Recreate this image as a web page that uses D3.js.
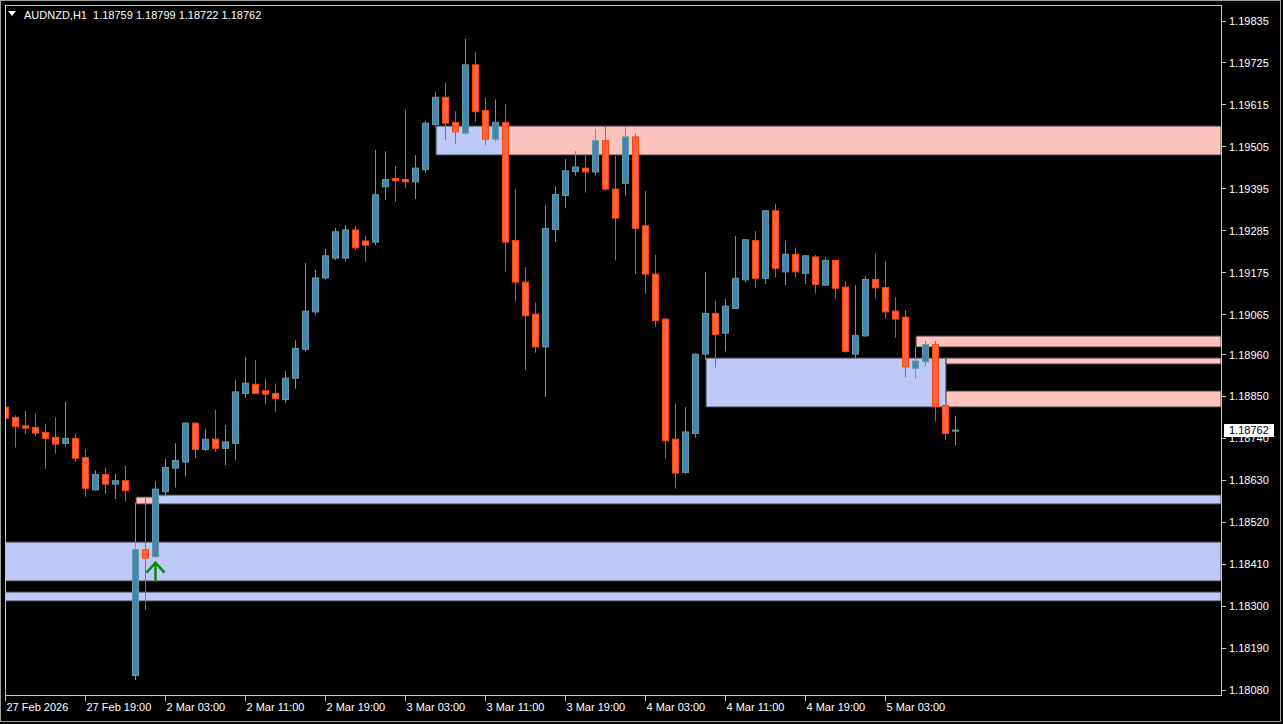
<!DOCTYPE html>
<html>
<head>
<meta charset="utf-8">
<script src="https://cdn.jsdelivr.net/npm/d3@7"></script>
<style>
html, body { margin: 0; padding: 0; background: #000; overflow: hidden; }
svg { display: block; }
text { font-family: "Liberation Sans", Arial, sans-serif; font-size: 11px; }
</style>
</head>
<body>
<script>
// AUDNZD H1 bars, 27 Feb 11:00 -> 5 Mar 10:00
var symbolTitle = "AUDNZD,H1";
var lastQuote = [1.18759, 1.18799, 1.18722, 1.18762];

var opens = [
  1.18822, 1.18795, 1.18773, 1.18769, 1.18756, 1.18743, 1.18727, 1.18740, 1.18690, 1.18605,
  1.18645, 1.18620, 1.18629, 1.18118, 1.18448, 1.18430, 1.18600, 1.18662, 1.18678, 1.18780,
  1.18711, 1.18738, 1.18714, 1.18727, 1.18858, 1.18882, 1.18865, 1.18858, 1.18842, 1.18898,
  1.18974, 1.19072, 1.19161, 1.19213, 1.19213, 1.19287, 1.19258, 1.19255, 1.19400, 1.19422,
  1.19419, 1.19413, 1.19445, 1.19563, 1.19635, 1.19569, 1.19541, 1.19720, 1.19600, 1.19525,
  1.19569, 1.19259, 1.19150, 1.19066, 1.18980, 1.19288, 1.19377, 1.19440, 1.19449, 1.19439,
  1.19521, 1.19394, 1.19409, 1.19531, 1.19298, 1.19171, 1.19053, 1.18738, 1.18651, 1.18753,
  1.18961, 1.19068, 1.19016, 1.19081, 1.19156, 1.19259, 1.19160, 1.19337, 1.19177, 1.19223,
  1.19173, 1.19216, 1.19142, 1.19207, 1.19137, 1.18961, 1.19009, 1.19157, 1.19136, 1.19074,
  1.19058, 1.18924, 1.18941, 1.18986, 1.18826, 1.18759
];
var highs = [
  1.18863, 1.18801, 1.18812, 1.18805, 1.18779, 1.18795, 1.18837, 1.18752, 1.18712, 1.18657,
  1.18664, 1.18648, 1.18668, 1.18571, 1.18583, 1.18628, 1.18687, 1.18727, 1.18783, 1.18782,
  1.18765, 1.18815, 1.18775, 1.18893, 1.18953, 1.18946, 1.18897, 1.18884, 1.18917, 1.18998,
  1.19200, 1.19182, 1.19237, 1.19292, 1.19300, 1.19297, 1.19271, 1.19497, 1.19493, 1.19455,
  1.19602, 1.19483, 1.19573, 1.19648, 1.19674, 1.19598, 1.19788, 1.19753, 1.19634, 1.19630,
  1.19617, 1.19394, 1.19189, 1.19097, 1.19352, 1.19401, 1.19473, 1.19494, 1.19484, 1.19552,
  1.19560, 1.19481, 1.19556, 1.19539, 1.19389, 1.19221, 1.19055, 1.18832, 1.18822, 1.18963,
  1.19176, 1.19101, 1.19106, 1.19271, 1.19263, 1.19284, 1.19339, 1.19355, 1.19258, 1.19241,
  1.19221, 1.19221, 1.19215, 1.19208, 1.19153, 1.19142, 1.19166, 1.19225, 1.19205, 1.19110,
  1.19077, 1.18979, 1.18996, 1.18996, 1.18863, 1.18799
];
var lows = [
  1.18788, 1.18716, 1.18752, 1.18745, 1.18660, 1.18700, 1.18718, 1.18679, 1.18587, 1.18603,
  1.18594, 1.18581, 1.18574, 1.18106, 1.18290, 1.18426, 1.18587, 1.18611, 1.18640, 1.18689,
  1.18707, 1.18705, 1.18670, 1.18683, 1.18847, 1.18857, 1.18830, 1.18810, 1.18834, 1.18870,
  1.18967, 1.19064, 1.19156, 1.19208, 1.19205, 1.19234, 1.19203, 1.19247, 1.19365, 1.19361,
  1.19398, 1.19368, 1.19437, 1.19560, 1.19522, 1.19513, 1.19535, 1.19571, 1.19509, 1.19516,
  1.19177, 1.19099, 1.18920, 1.18965, 1.18849, 1.19256, 1.19345, 1.19429, 1.19385, 1.19430,
  1.19390, 1.19207, 1.19378, 1.19171, 1.19119, 1.19033, 1.18687, 1.18608, 1.18647, 1.18742,
  1.18946, 1.18926, 1.18968, 1.19080, 1.19150, 1.19135, 1.19145, 1.19162, 1.19142, 1.19162,
  1.19145, 1.19120, 1.19141, 1.19107, 1.18965, 1.18949, 1.19007, 1.19107, 1.19054, 1.19004,
  1.18900, 1.18897, 1.18928, 1.18784, 1.18735, 1.18722
];
var closes = [
  1.18793, 1.18771, 1.18767, 1.18754, 1.18740, 1.18725, 1.18740, 1.18688, 1.18609, 1.18645,
  1.18620, 1.18629, 1.18603, 1.18448, 1.18426, 1.18607, 1.18664, 1.18682, 1.18780, 1.18711,
  1.18738, 1.18714, 1.18731, 1.18862, 1.18885, 1.18858, 1.18856, 1.18845, 1.18898, 1.18976,
  1.19074, 1.19161, 1.19219, 1.19282, 1.19287, 1.19240, 1.19247, 1.19379, 1.19419, 1.19416,
  1.19413, 1.19449, 1.19567, 1.19635, 1.19567, 1.19544, 1.19720, 1.19597, 1.19525, 1.19569,
  1.19255, 1.19150, 1.19062, 1.18980, 1.19291, 1.19380, 1.19442, 1.19452, 1.19439, 1.19521,
  1.19394, 1.19318, 1.19531, 1.19291, 1.19171, 1.19049, 1.18734, 1.18649, 1.18757, 1.18961,
  1.19068, 1.19013, 1.19087, 1.19160, 1.19261, 1.19160, 1.19337, 1.19186, 1.19223, 1.19177,
  1.19219, 1.19144, 1.19207, 1.19134, 1.18968, 1.19010, 1.19157, 1.19135, 1.19072, 1.19053,
  1.18928, 1.18943, 1.18986, 1.18823, 1.18753, 1.18762
];

var priceTicks = [1.19835, 1.19725, 1.19615, 1.19505, 1.19395, 1.19285, 1.19175, 1.19065,
  1.18960, 1.18850, 1.18740, 1.18630, 1.18520, 1.18410, 1.18300, 1.18190, 1.18080];

var timeLabels = ["27 Feb 2026", "27 Feb 19:00", "2 Mar 03:00", "2 Mar 11:00", "2 Mar 19:00",
  "3 Mar 03:00", "3 Mar 11:00", "3 Mar 19:00", "4 Mar 03:00", "4 Mar 11:00", "4 Mar 19:00", "5 Mar 03:00"];
var timeLabelBars = [0, 8, 16, 24, 32, 40, 48, 56, 64, 72, 80, 88];

// supply / demand zones (end = null -> extends to the right edge)
var zoneStart = [43, 50, 70, 91, 94, 94, 13, 15, -2, -2];
var zoneEnd   = [50, null, 94, null, null, null, 15, null, null, null];
var zoneHigh  = [1.19560, 1.19560, 1.18950, 1.19008, 1.18950, 1.18864, 1.18586, 1.18592, 1.18468, 1.18336];
var zoneLow   = [1.19484, 1.19484, 1.18822, 1.18979, 1.18934, 1.18822, 1.18568, 1.18567, 1.18366, 1.18314];
var zoneKind  = ["demand", "supply", "demand", "supply", "supply", "supply", "supply", "demand", "demand", "demand"];

var signalBar = [15];
var signalPrice = [1.18414];

var width = 1283, height = 724;
var plotLeft = 5, plotRight = 1221, plotTop = 5, plotBottom = 695;

var x = d3.scaleLinear().domain([0, 95]).range([5.7, 955.7]);
var y = d3.scaleLinear().domain([1.18080, 1.19835]).range([690, 21]);

function px(v) { return Math.floor(v) + 0.5; }

var svg = d3.select("body").append("svg")
  .attr("width", width)
  .attr("height", height);

svg.append("rect")
  .attr("width", width).attr("height", height)
  .attr("fill", "#000");

svg.append("clipPath").attr("id", "plotClip")
  .append("rect")
  .attr("x", plotLeft).attr("y", plotTop)
  .attr("width", plotRight - plotLeft).attr("height", plotBottom - plotTop);

var plot = svg.append("g").attr("clip-path", "url(#plotClip)");

var zones = d3.range(zoneStart.length);
plot.selectAll(".zone")
  .data(zones)
  .enter()
  .append("rect")
  .attr("class", "zone")
  .attr("x", function (i) { return Math.round(x(zoneStart[i])); })
  .attr("y", function (i) { return Math.round(y(zoneHigh[i])); })
  .attr("width", function (i) {
    var x1 = zoneEnd[i] === null ? plotRight : x(zoneEnd[i]);
    return Math.round(x1) - Math.round(x(zoneStart[i]));
  })
  .attr("height", function (i) { return Math.round(y(zoneLow[i])) - Math.round(y(zoneHigh[i])); })
  .attr("fill", function (i) { return zoneKind[i] == "supply" ? "#ffc3bd" : "#bec9f9"; })
  .attr("stroke", "#3e3e48")
  .attr("stroke-width", 1);

var bars = d3.range(opens.length);

var candle = plot.selectAll(".candle")
  .data(bars)
  .enter()
  .append("g")
  .attr("class", "candle");

candle.append("line")
  .attr("x1", function (i) { return px(x(i)); })
  .attr("x2", function (i) { return px(x(i)); })
  .attr("y1", function (i) { return y(highs[i]); })
  .attr("y2", function (i) { return y(lows[i]); })
  .attr("stroke", function (i) { return closes[i] >= opens[i] ? "#5f9ea0" : "#ff4500"; })
  .attr("stroke-width", 1);

candle.append("rect")
  .attr("x", function (i) { return px(x(i)) - 3; })
  .attr("y", function (i) { return y(Math.max(opens[i], closes[i])); })
  .attr("width", 6)
  .attr("height", function (i) {
    return Math.max(1, Math.abs(y(opens[i]) - y(closes[i])));
  })
  .attr("fill", function (i) { return closes[i] >= opens[i] ? "#4682b4" : "#ff6347"; })
  .attr("stroke", function (i) { return closes[i] >= opens[i] ? "#5f9ea0" : "#ff4500"; })
  .attr("stroke-width", 1);

// buy arrow
var arrows = plot.selectAll(".arrow")
  .data(d3.range(signalBar.length))
  .enter()
  .append("g")
  .attr("class", "arrow")
  .attr("transform", function (i) {
    return "translate(" + px(x(signalBar[i])) + "," + y(signalPrice[i]) + ")";
  });
arrows.append("path")
  .attr("d", "M0,0 L0,19 M-9,10 L0,0 L9,10")
  .attr("fill", "none")
  .attr("stroke", "#0a8a0a")
  .attr("stroke-width", 2.5);

// plot frame
svg.append("rect")
  .attr("x", plotLeft + 0.5).attr("y", plotTop + 0.5)
  .attr("width", plotRight - plotLeft).attr("height", plotBottom - plotTop)
  .attr("fill", "none")
  .attr("stroke", "#c8c8c8");

// price axis
var yAxis = svg.append("g");
yAxis.selectAll(".ytick")
  .data(priceTicks)
  .enter()
  .append("line")
  .attr("x1", plotRight + 1).attr("x2", plotRight + 5)
  .attr("y1", function (d) { return px(y(d)); })
  .attr("y2", function (d) { return px(y(d)); })
  .attr("stroke", "#c8c8c8");
yAxis.selectAll(".ylabel")
  .data(priceTicks)
  .enter()
  .append("text")
  .attr("x", plotRight + 8)
  .attr("y", function (d) { return y(d) + 4; })
  .attr("fill", "#ffffff")
  .text(function (d) { return d.toFixed(5); });

// time axis
var xAxis = svg.append("g");
xAxis.selectAll(".xtick")
  .data(timeLabelBars)
  .enter()
  .append("line")
  .attr("x1", function (b) { return px(x(b)); })
  .attr("x2", function (b) { return px(x(b)); })
  .attr("y1", plotBottom + 1).attr("y2", plotBottom + 6)
  .attr("stroke", "#c8c8c8");
xAxis.selectAll(".xlabel")
  .data(timeLabelBars)
  .enter()
  .append("text")
  .attr("x", function (b) { return px(x(b)) + 1; })
  .attr("y", plotBottom + 16)
  .attr("fill", "#ffffff")
  .text(function (b, i) { return timeLabels[i]; });

// current price label
var lastPrice = closes[closes.length - 1];
svg.append("rect")
  .attr("x", plotRight + 3).attr("y", Math.round(y(lastPrice)) - 6)
  .attr("width", 50).attr("height", 13)
  .attr("fill", "#ffffff");
svg.append("text")
  .attr("x", plotRight + 8)
  .attr("y", y(lastPrice) + 4)
  .attr("fill", "#000")
  .text(lastPrice.toFixed(5));

// title
svg.append("path")
  .attr("d", "M8,11 L16,11 L12,16 Z")
  .attr("fill", "#ffffff");
svg.append("text")
  .attr("x", 24).attr("y", 19)
  .attr("fill", "#ffffff")
  .attr("xml:space", "preserve")
  .style("white-space", "pre")
  .text(symbolTitle + "  " + lastQuote.map(function (v) { return v.toFixed(5); }).join(" "));

// window frame
svg.append("rect")
  .attr("x", 0.5).attr("y", 0.5)
  .attr("width", width - 3).attr("height", height - 3)
  .attr("fill", "none")
  .attr("stroke", "#a0a0a0");
</script>
</body>
</html>
